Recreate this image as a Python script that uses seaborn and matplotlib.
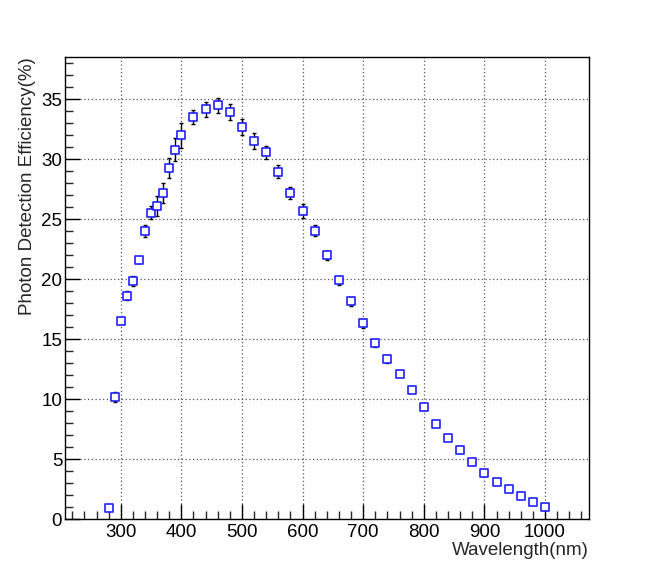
import numpy as np
import pandas as pd
import matplotlib
matplotlib.use("Agg")
import matplotlib.pyplot as plt
import seaborn as sns
from matplotlib.ticker import MultipleLocator

wavelength = [280, 290, 300, 310, 320, 330, 340, 350, 360, 370, 380, 390, 400,
              420, 440, 460, 480, 500, 520, 540, 560, 580, 600, 620, 640, 660,
              680, 700, 720, 740, 760, 780, 800, 820, 840, 860, 880, 900, 920,
              940, 960, 980, 1000]
pde = [0.97, 10.21, 16.56, 18.63, 19.89, 21.58, 24.03, 25.56, 26.11, 27.19,
       29.31, 30.81, 32.0, 33.53, 34.17, 34.5, 33.94, 32.67, 31.5, 30.57,
       28.96, 27.2, 25.7, 24.07, 22.0, 19.93, 18.16, 16.33, 14.69, 13.36,
       12.11, 10.81, 9.36, 7.92, 6.75, 5.75, 4.75, 3.86, 3.14, 2.5, 1.92,
       1.42, 1.0]
pde_err = [0.1, 0.44, 0.2, 0.38, 0.4, 0.2, 0.47, 0.53, 0.83, 0.85, 0.83, 0.99,
           1.04, 0.6, 0.63, 0.61, 0.67, 0.68, 0.67, 0.54, 0.54, 0.53, 0.58,
           0.44, 0.39, 0.37, 0.37, 0.39, 0.32, 0.33, 0.2, 0.2, 0.2, 0.15, 0.15,
           0.15, 0.15, 0.15, 0.1, 0.1, 0.1, 0.1, 0.1]

df = pd.DataFrame({"wavelength": wavelength, "pde": pde, "err": pde_err})

sns.set_theme(style="white")
plt.rcParams["font.family"] = ["Liberation Sans", "DejaVu Sans"]

fig = plt.figure(figsize=(6.54, 5.77), dpi=100)
ax = fig.add_axes([0.0994, 0.0997, 0.8007, 0.801])

ax.errorbar(df["wavelength"], df["pde"], yerr=df["err"], fmt="none",
            ecolor="black", elinewidth=1.0, capsize=1.6, capthick=1.0, zorder=2)
sns.scatterplot(data=df, x="wavelength", y="pde", marker="s", s=38,
                facecolor="white", edgecolor="#2020ff", linewidth=1.2,
                zorder=3, ax=ax, legend=False)

ax.set_xlim(208, 1072)
ax.set_ylim(0, 38.5)
ax.xaxis.set_major_locator(MultipleLocator(100))
ax.xaxis.set_minor_locator(MultipleLocator(20))
ax.yaxis.set_major_locator(MultipleLocator(5))
ax.yaxis.set_minor_locator(MultipleLocator(1))

ax.grid(True, which="major", color="#555555", linestyle=(0, (1, 2)), linewidth=0.9)
ax.tick_params(axis="both", which="major", direction="in", length=11, width=1,
               labelsize=13.5, colors="black", top=False, right=False)
ax.tick_params(axis="both", which="minor", direction="in", length=5.5, width=1,
               top=False, right=False)
ax.tick_params(axis="x", which="both", bottom=True)
ax.tick_params(axis="y", which="both", left=True)
ax.tick_params(axis="x", which="major", pad=3)
ax.tick_params(axis="y", which="major", pad=2)

for sp in ax.spines.values():
    sp.set_color("black")
    sp.set_linewidth(1.0)

ax.set_xlabel("")
ax.set_ylabel("")
fig.text(0.9005, 0.046, "Wavelength(nm)", ha="right", va="center", fontsize=13.5)
fig.text(0.042, 0.9007, "Photon Detection Efficiency(%)", ha="center", va="top",
         rotation=90, fontsize=13.5)

fig.savefig("out.png", dpi=100, facecolor="white")
